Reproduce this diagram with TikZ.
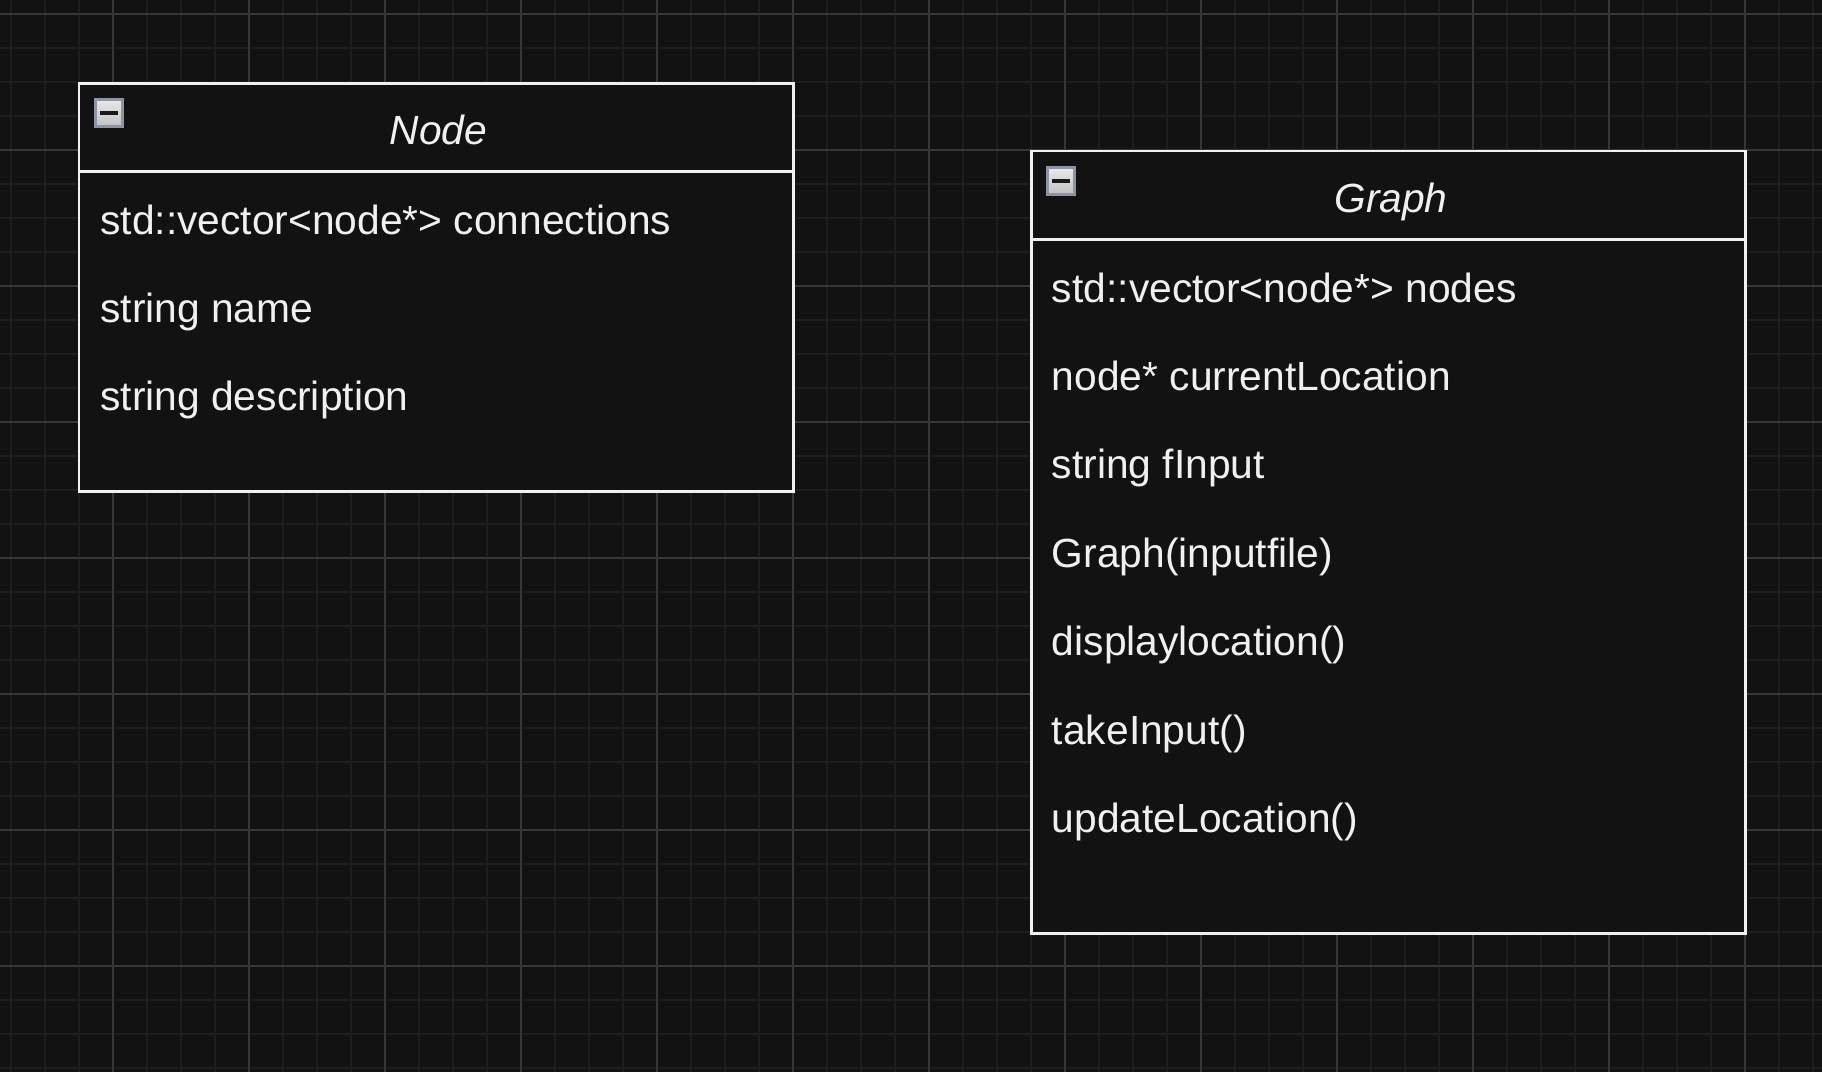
\documentclass[tikz,border=0pt]{standalone}
\usepackage{fontspec}
\setmainfont{Liberation Sans}

\definecolor{bgc}{HTML}{121212}
\definecolor{ink}{HTML}{F0F0F0}
\definecolor{minorline}{HTML}{1D1D1D}
\definecolor{majorline}{HTML}{363636}
\definecolor{iconrim}{HTML}{8D94A4}

\begin{document}
\begin{tikzpicture}[x=0.02cm, y=-0.02cm,
    minorgrid/.style={draw=minorline, line width=1.1pt},
    majorgrid/.style={draw=majorline, line width=0.6pt},
    classbox/.style={draw=ink, line width=1.7pt, fill=bgc},
    classname/.style={anchor=base, inner sep=0, text=ink, font=\fontsize{23.2}{28}\selectfont\itshape},
    member/.style={anchor=base west, inner sep=0, text=ink, font=\fontsize{23.2}{28}\selectfont},
    collapse/.style={draw=iconrim, line width=1.7pt, minimum size=0.54cm, inner sep=0,
      top color=white!91!black, bottom color=white!76!black}]

    % background and grid
    \fill[bgc] (0,0) rectangle (1822,1072);
    \useasboundingbox (0,0) rectangle (1822,1072);
    \foreach \x in {11,45,...,1822} \draw[minorgrid] (\x,0) -- (\x,1072);
    \foreach \y in {14,48,...,1072} \draw[minorgrid] (0,\y) -- (1822,\y);
    \foreach \x in {113,249,...,1822} \draw[majorgrid] (\x,0) -- (\x,1072);
    \foreach \y in {14,150,...,1072} \draw[majorgrid] (0,\y) -- (1822,\y);

    \coordinate (nodeTL) at (79,83.5);
    \coordinate (nodeBR) at (793.5,491.5);
    \coordinate (nodeSep) at (793.5,171.7);
    \coordinate (graphTL) at (1031,151);
    \coordinate (graphBR) at (1745,933);
    \coordinate (graphSep) at (1745,239.3);

    \draw[classbox] (nodeTL) rectangle (nodeBR);
    \draw[classbox] (nodeTL |- nodeSep) -- (nodeSep);
    \draw[classbox] (graphTL) rectangle (graphBR);
    \draw[classbox] (graphTL |- graphSep) -- (graphSep);

    % collapse buttons
    \node[collapse] (nodeIcon) at (109,113) {};
    \node[collapse] (graphIcon) at (1061,181) {};
    \draw[line width=1.9pt, black!90] (nodeIcon.center) +(-9,0) -- +(9,0);
    \draw[line width=1.9pt, black!90] (graphIcon.center) +(-9,0) -- +(9,0);

    \node[classname] (nodeTitle) at (438.5,144.5) {Node};
    \node[member] (nodeConn) at (100,234) {std::vector<node*> connections};
    \node[member] (nodeName) at (100,322.4) {string name};
    \node[member] (nodeDesc) at (100,410.8) {string description};

    \node[classname] (graphTitle) at (1391,212) {Graph};
    \node[member] (graphNodes) at (1051.6,302) {std::vector<node*> nodes};
    \node[member] (graphCur) at (1051.6,390.4) {node* currentLocation};
    \node[member] (graphInput) at (1051.6,478.8) {string fInput};
    \node[member] (graphCtor) at (1051.6,567.2) {Graph(inputfile)};
    \node[member] (graphDisp) at (1051.6,655.6) {displaylocation()};
    \node[member] (graphTake) at (1051.6,744) {takeInput()};
    \node[member] (graphUpd) at (1051.6,832.4) {updateLocation()};
\end{tikzpicture}
\end{document}
